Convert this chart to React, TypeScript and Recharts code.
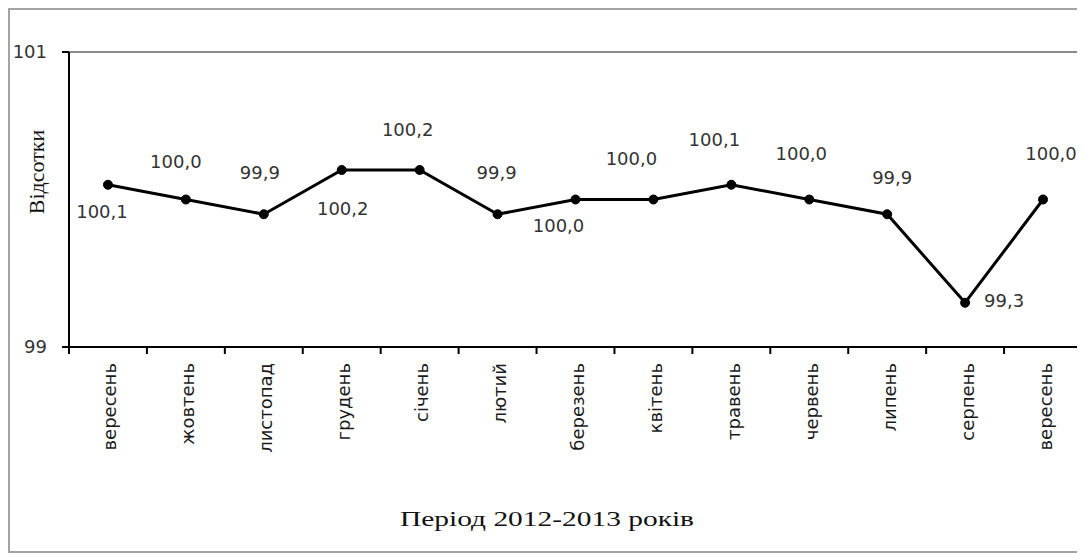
import { LineChart, Line, XAxis, YAxis, CartesianGrid, LabelList, Customized } from 'recharts';

const months = [
  'вересень', 'жовтень', 'листопад', 'грудень', 'січень', 'лютий', 'березень',
  'квітень', 'травень', 'червень', 'липень', 'серпень', 'вересень',
];
const values = [100.1, 100.0, 99.9, 100.2, 100.2, 99.9, 100.0, 100.0, 100.1, 100.0, 99.9, 99.3, 100.0];
const yTicks = [99, 101];

// where each value label sits relative to its point
const labelOffsets: [number, number][] = [
  [-6, 27], [-10, -38], [-4, -42], [1, 38], [-12, -41], [-1, -42], [-17, 26],
  [-22, -41], [-17, -45], [-8, -46], [5, -37], [39, -2], [8, -46],
];

const data = months.map((month, i) => ({ month, value: values[i] }));

const W = 1072;
const H = 541;
const Y_AXIS_W = 59;
const X_AXIS_H = 204;
const BAND = (W - Y_AXIS_W) / months.length;
const SANS = '"DejaVu Sans", sans-serif';
const SERIF = '"Liberation Serif", "Times New Roman", serif';

const fmt = (v: number) => v.toFixed(1).replace('.', ',');

function MonthTick(props: any) {
  const { x, y, payload, index } = props;
  const last = index === months.length - 1;
  return (
    <g>
      <line x1={x - BAND / 2} x2={x - BAND / 2} y1={y} y2={y + 7} stroke="#000" strokeWidth={2} />
      {last && <line x1={x + BAND / 2 - 1} x2={x + BAND / 2 - 1} y1={y} y2={y + 7} stroke="#000" strokeWidth={2} />}
      <text
        transform={`translate(${x + 2},${y + 16}) rotate(-90)`}
        textAnchor="end"
        dominantBaseline="central"
        fontFamily={SANS}
        fontSize={18}
        fill="#1a1a1a"
      >
        {payload.value}
      </text>
    </g>
  );
}

function ValueLabel(props: any) {
  const { x, y, value, index } = props;
  const [dx, dy] = labelOffsets[index] ?? [0, -20];
  return (
    <text
      x={x + dx}
      y={y + dy}
      textAnchor="middle"
      dominantBaseline="central"
      fontFamily={SANS}
      fontSize={18}
      fill="#333"
    >
      {fmt(value)}
    </text>
  );
}

function Titles() {
  return (
    <g fontFamily={SERIF} fill="#111">
      <text
        transform="translate(26,162) rotate(-90)"
        textAnchor="middle"
        dominantBaseline="central"
        fontSize={22}
      >
        Відсотки
      </text>
      <text
        x={537}
        y={516}
        textAnchor="middle"
        fontSize={22}
        textLength={294}
        lengthAdjust="spacingAndGlyphs"
      >
        Період 2012-2013 років
      </text>
    </g>
  );
}

export default function App() {
  return (
    <div
      style={{
        width: 1076,
        height: 545,
        boxSizing: 'border-box',
        border: '2px solid #a3a3a3',
        background: '#fff',
        fontFamily: SANS,
      }}
    >
      <LineChart width={W} height={H} data={data} margin={{ top: 42, right: 0, left: 0, bottom: 0 }}>
        <CartesianGrid vertical={false} stroke="#8a8a8a" strokeWidth={2} />
        <XAxis
          dataKey="month"
          interval={0}
          height={X_AXIS_H}
          padding={{ left: BAND / 2, right: BAND / 2 }}
          tickLine={false}
          tickSize={0}
          tickMargin={0}
          axisLine={{ stroke: '#000', strokeWidth: 2 }}
          tick={<MonthTick />}
        />
        <YAxis
          width={Y_AXIS_W}
          domain={[99, 101]}
          ticks={yTicks}
          tickSize={7}
          tickMargin={15}
          tickLine={{ stroke: '#000', strokeWidth: 2 }}
          axisLine={{ stroke: '#000', strokeWidth: 2 }}
          tick={{ fontFamily: SANS, fontSize: 18, fill: '#333' }}
        />
        <Line
          dataKey="value"
          stroke="#000"
          strokeWidth={3}
          dot={{ r: 4.5, fill: '#000', stroke: '#000', strokeWidth: 1 }}
          isAnimationActive={false}
        >
          <LabelList dataKey="value" content={<ValueLabel />} />
        </Line>
        <Customized component={<Titles />} />
      </LineChart>
    </div>
  );
}
